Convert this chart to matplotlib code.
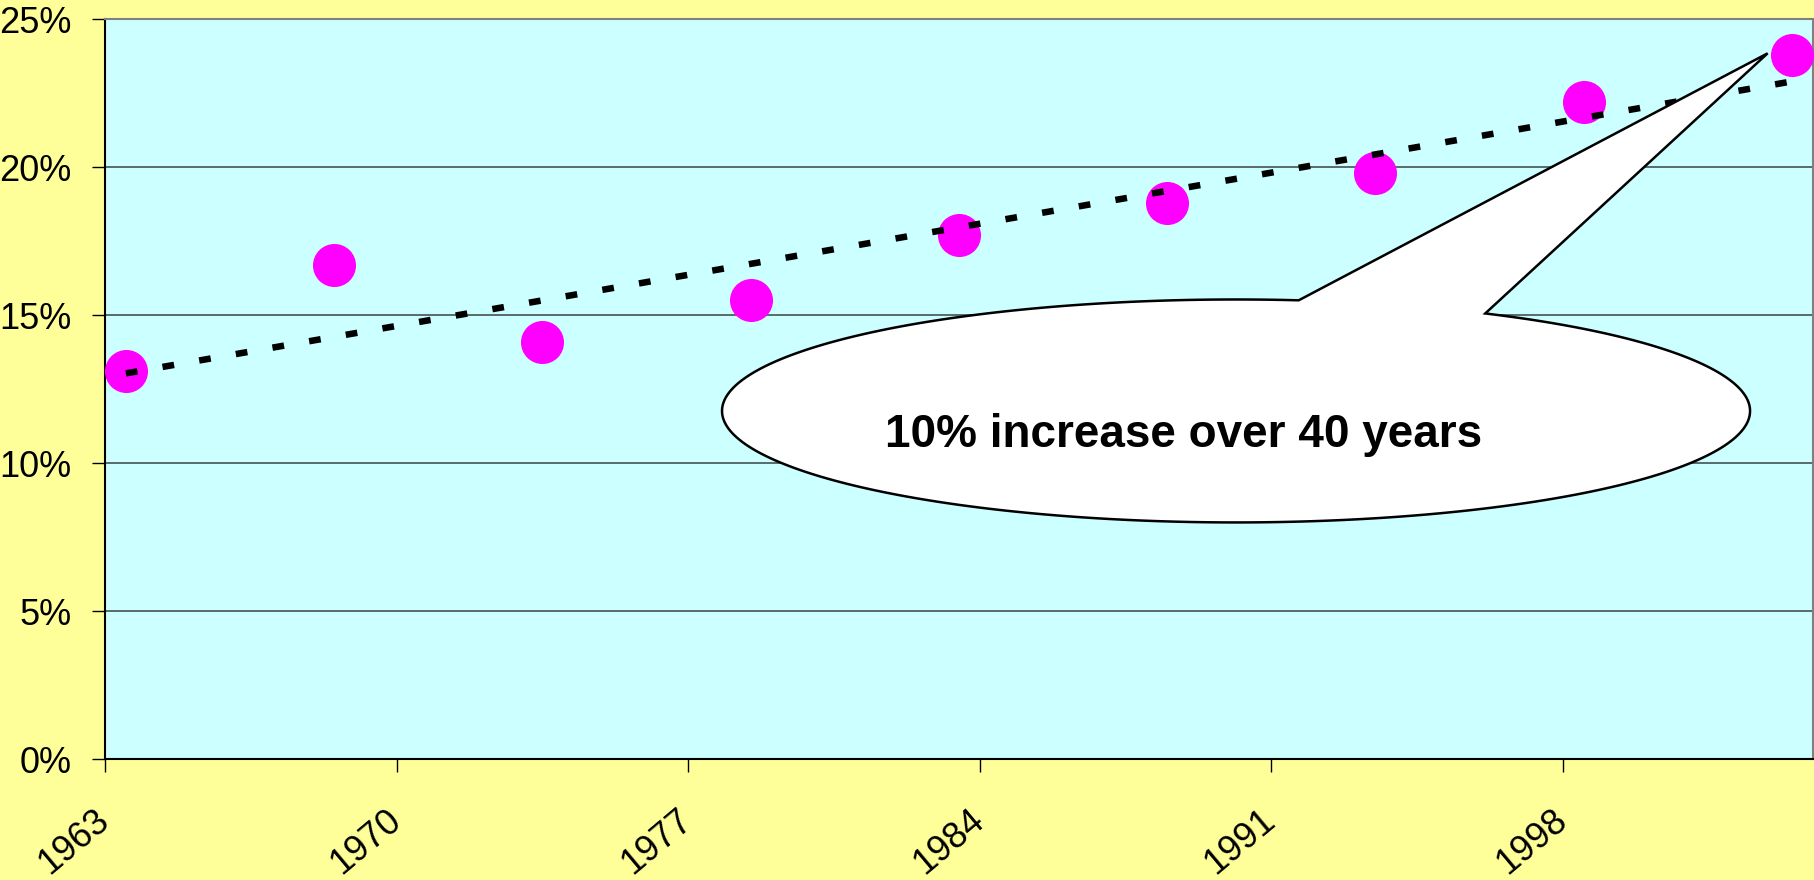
import matplotlib.pyplot as plt
import matplotlib.patches as mpatches
import numpy as np

plt.rcParams['font.family'] = ['Liberation Sans', 'DejaVu Sans']

# Data
years = [1963, 1968, 1973, 1978, 1983, 1988, 1993, 1998, 2003]
share = [13.1, 16.7, 14.1, 15.5, 17.7, 18.8, 19.8, 22.2, 23.8]   # percent
tick_years = [1963, 1970, 1977, 1984, 1991, 1998]
y_ticks = [0, 5, 10, 15, 20, 25]
callout_text = "10% increase over 40 years"

# Figure and plot area
figure = plt.figure(figsize=(18.14, 8.8), dpi=100, facecolor='#FFFF99')
axes = figure.add_axes([0.0579, 0.1375, 0.9414, 0.8406])
axes.set_facecolor('#CCFFFF')

# category axis: points sit in the middle of each year slot, ticks on the boundaries
x = np.array(years) + 0.5
y = np.array(share) / 100.0
axes.scatter(x, y, s=31 ** 2, color='#FF00FF', linewidths=0, zorder=3)

# linear trend line
slope, intercept = np.polyfit(x, y, 1)
axes.plot(x, slope * x + intercept, color='black', lw=4.7, dashes=(1.8, 3.9),
          dash_capstyle='butt', zorder=4)

axes.set_xlim(tick_years[0], years[-1] + 1)
axes.set_ylim(0, 0.25)
axes.set_xticks(tick_years)
axes.set_xticklabels([str(t) for t in tick_years], rotation=40, ha='right',
                     va='center', rotation_mode='anchor')
axes.set_yticks([v / 100.0 for v in y_ticks])
axes.set_yticklabels([f"{v}%" for v in y_ticks])
axes.tick_params(axis='y', length=9.4, width=1, pad=14.5, labelsize=26)
axes.tick_params(axis='x', length=9, width=1, pad=32, labelsize=26)

axes.yaxis.grid(True, color='#506060', lw=1.3)
axes.set_axisbelow(True)
for side in ['left', 'bottom']:
    axes.spines[side].set_color('black')
    axes.spines[side].set_linewidth(1.5)
for side in ['top', 'right']:
    axes.spines[side].set_color('#808080')
    axes.spines[side].set_linewidth(1.5)

# Callout bubble (ellipse with a pointed tail), in axes fractions
cx, cy, a, b = 0.6623, 0.4705, 0.3010, 0.1507
t = np.radians(np.linspace(83, 421, 300))
pts = np.column_stack([cx + a * np.cos(t), cy + b * np.sin(t)])
pts = np.vstack([pts, [0.9736, 0.9540]])
bubble = mpatches.Polygon(pts, closed=True, transform=axes.transAxes,
                          facecolor='white', edgecolor='black', lw=1.8,
                          zorder=5, clip_on=False)
axes.add_patch(bubble)
axes.text(0.6318, 0.4218, callout_text, transform=axes.transAxes,
          ha='center', va='baseline', fontsize=33, fontweight='bold', zorder=6)

figure.savefig('out.png', dpi=100, facecolor=figure.get_facecolor())
